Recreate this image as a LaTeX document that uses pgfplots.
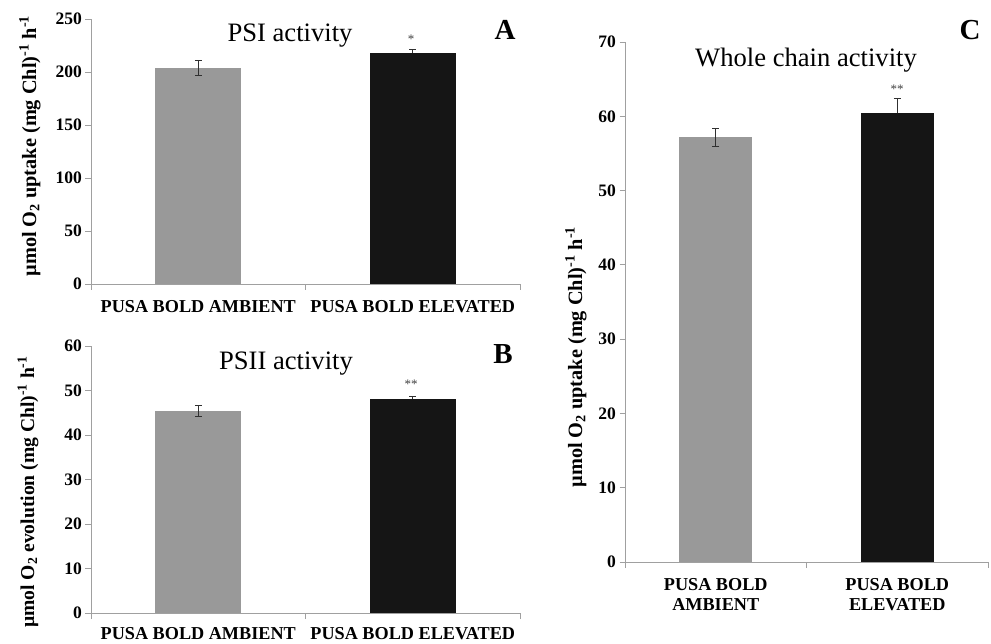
\documentclass[border=0pt]{standalone}
\usepackage{fontspec}
\setmainfont{Liberation Serif}
\usepackage{pgfplots}
\pgfplotsset{compat=1.18}
\definecolor{bargray}{HTML}{999999}
\definecolor{barblack}{HTML}{151515}
\definecolor{axgray}{HTML}{A0A0A0}
\definecolor{errc}{HTML}{303030}

\pgfplotsset{
 panel/.style={
  scale only axis, anchor=south west,
  axis lines*=left, axis line style={axgray, line width=0.9pt},
  xmin=-0.5, xmax=1.5, ymin=0,
  xtick={0,1}, minor xtick={-0.5,0.5,1.5},
  tick align=outside,
  major tick length=5.5pt, minor tick length=6pt,
  every major x tick/.append style={draw=none},
  every tick/.append style={axgray, line width=0.9pt},
  every minor tick/.append style={axgray, line width=0.9pt},
  yticklabel style={font=\fontsize{17.5}{19}\selectfont\bfseries, text=black},
  xticklabel style={font=\fontsize{18.2}{20}\selectfont\bfseries, text=black, yshift=-7.5pt},
  /pgf/number format/assume math mode=true,
  clip=false,
  ybar, bar width=0.4,
 },
 grayb/.style={fill=bargray, draw=none, bar shift=0pt,
   error bars/.cd, y dir=both, y explicit,
   error bar style={errc, line width=0.9pt},
   error mark options={errc, rotate=90, mark size=3.5pt, line width=0.9pt}},
 blackb/.style={fill=barblack, draw=none, bar shift=0pt,
   error bars/.cd, y dir=plus, y explicit,
   error bar style={errc, line width=0.9pt},
   error mark options={errc, rotate=90, mark size=3.5pt, line width=0.9pt}},
}

\begin{document}
\begin{tikzpicture}
\path[use as bounding box] (0pt,0pt) rectangle (991pt,643pt);

% Panel A
\begin{axis}[panel, at={(91pt,359pt)}, width=429pt, height=265pt,
  ymax=250, ytick={0,50,...,250},
  xticklabels={PUSA BOLD AMBIENT, PUSA BOLD ELEVATED}]
\addplot+[grayb] coordinates {(0,203.8) +- (0,7.5)};
\addplot+[blackb] coordinates {(1,218.0) +- (0,3.3)};
\end{axis}

% Panel B
\begin{axis}[panel, at={(91pt,30pt)}, width=429pt, height=267pt,
  ymax=60, ytick={0,10,...,60},
  xticklabel style={yshift=2pt},
  xticklabels={PUSA BOLD AMBIENT, PUSA BOLD ELEVATED}]
\addplot+[grayb] coordinates {(0,45.4) +- (0,1.3)};
\addplot+[blackb] coordinates {(1,48.1) +- (0,0.6)};
\end{axis}

% Panel C
\begin{axis}[panel, at={(625pt,81pt)}, width=363pt, height=520pt,
  ymax=70, ytick={0,10,...,70},
  xticklabel style={align=center, font=\fontsize{18.2}{19.5}\selectfont\bfseries},
  xticklabels={{PUSA BOLD\\AMBIENT},{PUSA BOLD\\ELEVATED}}]
\addplot+[grayb] coordinates {(0,57.2) +- (0,1.2)};
\addplot+[blackb] coordinates {(1,60.4) +- (0,2.0)};
\end{axis}

% titles
\node[anchor=base, font=\fontsize{26.6}{30}\selectfont] at (290pt,601pt) {PSI activity};
\node[anchor=base, font=\fontsize{26.6}{30}\selectfont] at (286pt,273pt) {PSII activity};
\node[anchor=base, font=\fontsize{26.6}{30}\selectfont] at (806pt,576pt) {Whole chain activity};

% panel letters
\node[anchor=base, font=\fontsize{29}{32}\selectfont\bfseries] at (505pt,603.5pt) {A};
\node[anchor=base, font=\fontsize{29}{32}\selectfont\bfseries] at (503pt,279.5pt) {B};
\node[anchor=base, font=\fontsize{29}{32}\selectfont\bfseries] at (970pt,603pt) {C};

% significance stars
\node[font=\fontsize{13}{14}\selectfont, text=black!75] at (411pt,604pt) {*};
\node[font=\fontsize{13}{14}\selectfont, text=black!75] at (411pt,259pt) {**};
\node[font=\fontsize{13}{14}\selectfont, text=black!75] at (897pt,554pt) {**};

% y labels
\node[rotate=90, font=\fontsize{20.3}{24}\selectfont\bfseries] at (30pt,497pt) {µmol O\textsubscript{2} uptake (mg Chl)\textsuperscript{-1} h\textsuperscript{-1}};
\node[rotate=90, font=\fontsize{19.6}{24}\selectfont\bfseries] at (28pt,151pt) {µmol O\textsubscript{2} evolution (mg Chl)\textsuperscript{-1} h\textsuperscript{-1}};
\node[rotate=90, font=\fontsize{20.3}{24}\selectfont\bfseries] at (576pt,286pt) {µmol O\textsubscript{2} uptake (mg Chl)\textsuperscript{-1} h\textsuperscript{-1}};
\end{tikzpicture}
\end{document}
